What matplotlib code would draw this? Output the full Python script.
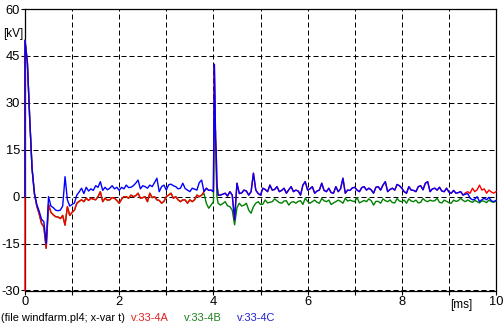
"""
Recreate the ATP windfarm voltage plot (v:33-4A/B/C, kV vs ms).
"""

import numpy as np
import matplotlib.pyplot as plt

plt.rcParams['font.family'] = ['Liberation Sans', 'DejaVu Sans']
plt.rcParams['axes.unicode_minus'] = False

# sample grid, 0.05 ms step from 0 to 10 ms
t = np.arange(201) * 0.05

# blue, phase C [kV], one row per ms
blue_v = [
    50, 43, 25, 9, 1, -2.5, -4.6, -7.2, -8, -15, 0, -3, -3.5, -4.3, -4.5, -4.3, -3, 6.4, -1, -3,
    -2.5, -2, 0.5, 1.5, 2.7, 1, 3, 1.8, 2.5, 2, 3.5, 3, 4.8, 2, 3, 2.2, 2.7, 3.5, 2.5, 3,
    2, 3, 2.5, 3.7, 2.9, 3.0, 3.5, 4.3, 5.3, 2.5, 3.5, 3.2, 2.7, 3.7, 3.2, 4.5, 5.9, 1.6, 3.2, 3.7,
    2.1, 3.8, 4.0, 3.5, 3.2, 2.5, 2.7, 4.3, 2.6, 2.1, 1.6, 2.7, 2.4, 2.1, 4.5, 5.3, 1.6, 2.7, 2.0, 2.1,
    1.6, 17, 0.5, 0.5, 0.8, 1.1, 0.2, 1.6, 0.5, -7.4, 4.3, 1.0, 1.2, 2.1, 1.8, 0.5, 1.6, 7.5, 2.1, 1.0,
    0.5, 2.7, 2.3, 1.6, 3.7, 2.1, 2.3, 3.2, 1.6, 2.0, 2.7, 1.1, 2.2, 3.2, 1.6, 2.1, 1.8, 0.5, 3.7, 4.8,
    2.1, 2.5, 3.2, 1.1, 1.8, 2.1, 4.3, 2.0, 1.6, 2.7, 1.3, 1.1, 3.2, 1.6, 2.5, 5.9, 1.1, 2.1, 2.0, 2.8,
    3.0, 2.1, 1.6, 2.9, 3.2, 2.1, 2.7, 2.2, 1.1, 3.0, 3.2, 2.1, 3.7, 4.8, 1.6, 2.3, 2.7, 2.1, 3.9, 3.5,
    2.7, 1.6, 1.1, 3.2, 2.1, 2.0, 1.6, 3.2, 3.5, 2.2, 4.3, 4.8, 1.6, 2.5, 2.7, 2.1, 3.0, 1.8, 1.6, 2.7,
    1.5, 1.1, 2.0, 1.1, 1.3, 1.6, 0.5, 0.8, 1.0, -0.5, -1.0, -0.8, 0, -1.6, -1.0, -0.5, -1.0, -0.2, -1.3, -1.6,
    -1.2,
]

# red, phase A: own samples 0..3.80 ms and 9.30..10 ms
red_early = [
    50, 43, 25, 9, 1, -3, -5.5, -8.5, -9.7, -16.5, -2.5, -5, -5.8, -6.4, -6.5, -7, -6, -9.1, -3.2, -6,
    -5, -4.3, -2.1, -1.5, -1, -1.6, -0.5, -1.2, -0.5, -0.8, -1, 0, 1.6, -1.6, -0.5, -1.1, -1, -0.3, -0.5, -1.2,
    -2.1, -0.8, 0, 0, -0.5, 0.5, 0, 0.3, 1.1, -0.5, -0.3, 0, -1.6, 1.1, -0.3, 0, -1.0, -1.2, -2.1, -1.5,
    0, 0.5, 1.1, -0.5, 0, -1.0, -1.6, -1.0, -1.05, -2.1, -1.0, -1.6, -1.0, 0.5, 0, 0.5, 1.6,
]
red_late = [0.5, 1.2, 1.6, 1.1, 2.7, 1.6, 2.2, 3.7, 2.1, 2.5, 1.1, 2.1, 1.5, 1.1, 1.6]

# green, phase B: own samples 3.80..10 ms
green_late = [
    1.0, -2.1, -3.7, -2.7,
    -1.6, 15, -2.1, -2.7, -2.2, -1.6, -2.9, -3.2, -4.3, -9.0, -3.5, -2.1, -3.0, -2.7, -2.1, -4.3, -5.3, -3.2, -2.1, -1.6,
    -2.5, -2.4, -1.05, -2.0, -1.8, -1.6, -0.7, -1.3, -1.9, -2.1, -1.4, -1.3, -2.7, -1.8, -1.6, -2.1, -1.5, -1.3, -2.5, -0.5,
    -1.5, -2.1, -1.6, -1.1, -1.8, -2.1, -0.6, -1.3, -1.6, -1.1, -2.5, -2.0, -1.6, -1.1, -1.5, -2.1, -0.5, -1.4, -1.1, -1.4,
    -1.6, -0.3, -2.0, -1.6, -1.2, -1.6, -0.7, -1.3, -2.7, -1.5, -1.5, -2.1, -0.7, -1.3, -1.6, -1.05, -1.9, -2.0, -0.6, -1.4,
    -1.6, -1.1, -2.1, -0.7, -1.4, -1.6, -1.1, -2.0, -1.8, -0.6, -1.3, -1.6, -1.1, -1.4, -1.3, -0.5, -1.8, -2.0, -1.1, -1.5,
    -1.9, -2.1, -1.1, -1.5, -1.3, -0.5, -1.2, -1.6, -1.05, -1.5, -1.8, -1.2, -1.6, -2.0, -1.3, -1.5, -1.9, -1.1, -1.6, -1.8,
    -1.4,
]

# extra samples on the switching spike near 4 ms
spike_t = [4.01, 4.02, 4.035, 4.045, 4.06, 4.075]
blue_spike = [20, 42.3, 30, 19, 14, 4]
green_spike = [12, 24, 22, 21, 8, 0]

# red lies under blue between 3.85 and 9.25 ms, green under red before 3.80 ms
red_v = red_early + blue_v[77:186] + red_late
green_v = red_early[:76] + green_late


def trace(v, sv, start):
    tt = np.concatenate([[0.0], t, spike_t])
    vv = np.concatenate([[start], v, sv])
    order = np.argsort(tt, kind='stable')
    return tt[order], vv[order]


fig = plt.figure(figsize=(5.04, 3.28), dpi=100)
ax = fig.add_axes([25 / 504, 1 - 290.5 / 328, 471 / 504, 281.5 / 328])

for v, sv, start, col in [(green_v, green_spike, 0, '#008000'),
                          (red_v, blue_spike, -30, '#ff0000'),
                          (blue_v, blue_spike, 0, '#0000ff')]:
    x, y = trace(v, sv, start)
    ax.plot(x, y, color=col, linewidth=1.0, clip_on=False, zorder=3)

ax.set_xlim(0, 10)
ax.set_ylim(-30, 60)
ax.set_xticks(range(11))
ax.set_xticklabels([str(i) if i % 2 == 0 else '' for i in range(11)])
ax.set_yticks(range(-30, 61, 15))
ax.grid(True, color='black', linestyle=(0, (5, 3)), linewidth=0.72)
ax.tick_params(direction='out', length=3, width=0.8, labelsize=9.3, pad=1,
               colors='black')
ax.tick_params(axis='y', pad=0.5)
for s in ax.spines.values():
    s.set_linewidth(0.9)

fig.text(3 / 504, 1 - 33.5 / 328, '[kV]', fontsize=8.5, ha='left', va='center')
ax.text(9.26, -34.6, '[ms]', fontsize=8.5, ha='center', va='center', clip_on=False)

ly = 1 - 318 / 328
fig.text(1 / 504, ly, '(file windfarm.pl4; x-var t)', fontsize=7.9, va='center')
fig.text(131 / 504, ly, 'v:33-4A', fontsize=7.9, va='center', color='#e02020')
fig.text(184 / 504, ly, 'v:33-4B', fontsize=7.9, va='center', color='#208020')
fig.text(237 / 504, ly, 'v:33-4C', fontsize=7.9, va='center', color='#2020d0')

fig.savefig('out.png', dpi=100)
